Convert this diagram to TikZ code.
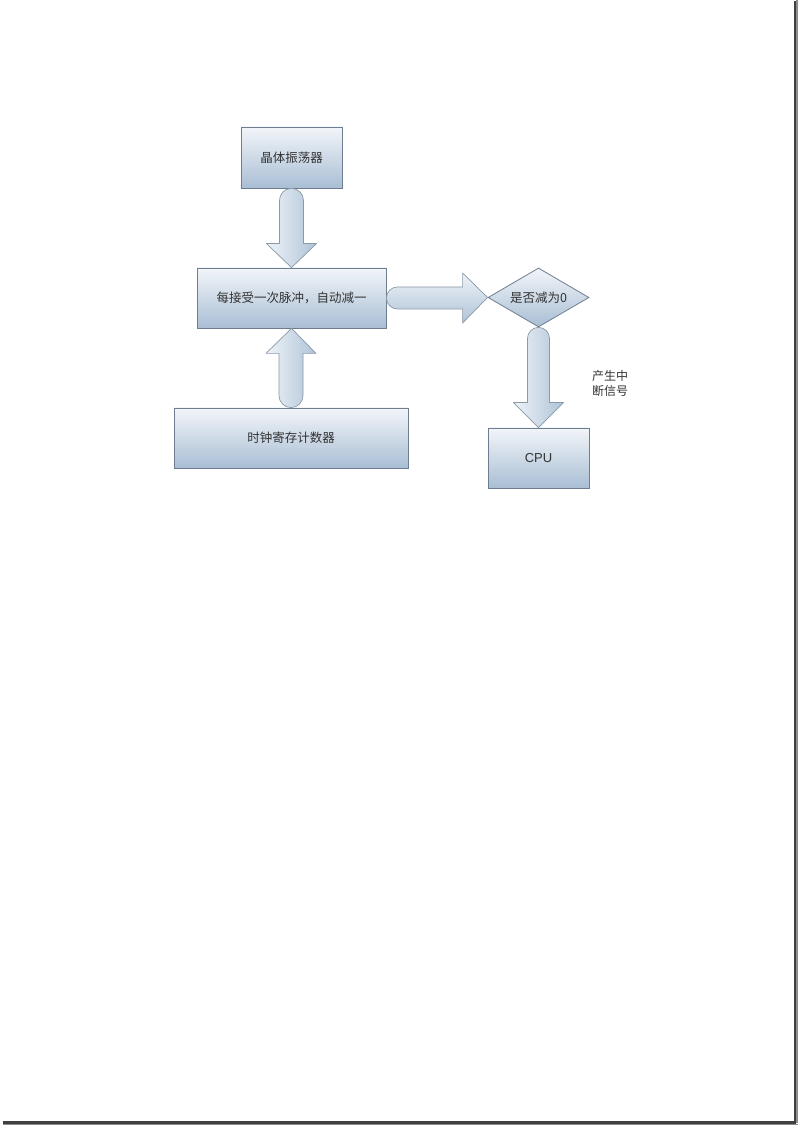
\documentclass[tikz,border=0pt]{standalone}
\usepackage{fontspec}
\setmainfont{Liberation Serif}
\newfontfamily\cjk{Noto Sans CJK SC}
\newfontfamily\arial{Liberation Sans}
\usetikzlibrary{calc,shapes.geometric}
\definecolor{boxtop}{HTML}{F2F5F9}
\definecolor{boxbot}{HTML}{A9BED4}
\definecolor{boxline}{HTML}{6E7E90}
\definecolor{arrL}{HTML}{EEF3F8}
\definecolor{arrR}{HTML}{AFC3D7}
\definecolor{txt}{HTML}{333333}
\tikzset{
  blk/.style={draw=boxline, line width=0.8pt, top color=boxtop, bottom color=boxbot,
    font=\cjk\fontsize{12.5}{15}\selectfont, text=txt, inner sep=0pt},
  varrow/.style={draw=boxline!80, line width=0.7pt, left color=arrL, right color=arrR, line join=round},
  harrow/.style={draw=boxline!80, line width=0.7pt, top color=arrL, bottom color=arrR, line join=round},
}
\begin{document}
\begin{tikzpicture}[x=1pt,y=1pt]
\useasboundingbox (0,0) rectangle (798,1126);
\fill[white] (0,0) rectangle (798,1126);
% page shadow
\fill[black!45] (796,3) rectangle (797.5,1126);
\fill[black!45] (3,0.5) rectangle (797.5,2);
\fill[black!75] (793.5,2) rectangle (796,1125);
\fill[black!75] (3,2) rectangle (796,4.5);

% nodes
\node[blk, minimum width=101pt, minimum height=61pt] (osc) at (291.5,968.5) {晶体振荡器};
\node[blk, minimum width=189pt, minimum height=60pt] (dec) at (291.5,828) {每接受一次脉冲，自动减一};
\node[blk, minimum width=234pt, minimum height=60pt] (clk) at (291,688) {时钟寄存计数器};
\node[blk, minimum width=101pt, minimum height=60pt, font=\arial\fontsize{13}{15}\selectfont] (cpu) at (538.5,668) {CPU};
\node[blk, diamond, aspect=1.7, minimum width=101pt, minimum height=59pt] (dia) at (538.5,828.5) {是否减为0};
\node[anchor=west, align=left, font=\cjk\fontsize{12}{15}\selectfont, text=txt, inner sep=0pt] (lbl) at (592,743) {产生中\\断信号};

% block arrows
\path let \p1=(osc.south), \p2=(dec.north) in
  [varrow] (\x1-12,\y2+24) -- (\x1-12,\y1-12) arc[start angle=180,end angle=0,radius=12]
  -- (\x1+12,\y2+24) -- (\x1+25,\y2+24) -- (\x2,\y2) -- (\x1-25,\y2+24) -- cycle;
\path let \p1=(clk.north), \p2=(dec.south) in
  [varrow] (\x1-12,\y2-25) -- (\x1-12,\y1+12) arc[start angle=180,end angle=360,radius=12]
  -- (\x1+12,\y2-25) -- (\x1+25,\y2-25) -- (\x2,\y2) -- (\x1-25,\y2-25) -- cycle;
\path let \p1=(dec.east), \p2=(dia.west) in
  [harrow] (\x2-25,\y1+11) -- (\x1+11,\y1+11) arc[start angle=90,end angle=270,radius=11]
  -- (\x2-25,\y1-11) -- (\x2-25,\y1-25) -- (\x2,\y2) -- (\x2-25,\y1+25) -- cycle;
\path let \p1=(dia.south), \p2=(cpu.north) in
  [varrow] (\x1-11,\y2+25) -- (\x1-11,\y1-11) arc[start angle=180,end angle=0,radius=11]
  -- (\x1+11,\y2+25) -- (\x1+25,\y2+25) -- (\x2,\y2) -- (\x1-25,\y2+25) -- cycle;
\end{tikzpicture}
\end{document}
